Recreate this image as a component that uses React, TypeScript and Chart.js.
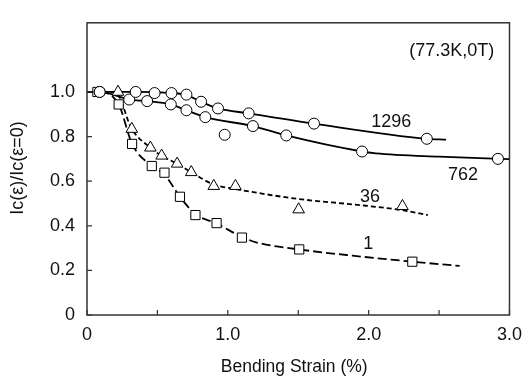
import { useEffect, useRef } from "react";
import { Chart, registerables } from "chart.js";

Chart.register(...registerables);

// ---- axis ticks ----
const xTickValues = [0, 1, 2, 3];
const xTickLabels = ["0", "1.0", "2.0", "3.0"];
const xMinorTicks = [0.5, 1.5, 2.5];
const yTickValues = [0, 0.2, 0.4, 0.6, 0.8, 1.0];
const yTickLabels = ["0", "0.2", "0.4", "0.6", "0.8", "1.0"];

// ---- measured markers ----
const s1296X = [0.09, 0.346, 0.48, 0.6, 0.706, 0.81, 0.93, 1.148, 1.612, 2.413];
const s1296Y = [1.0, 1.0, 0.995, 0.995, 0.988, 0.956, 0.926, 0.904, 0.858, 0.79];
const s762X = [0.09, 0.3, 0.427, 0.595, 0.706, 0.84, 1.178, 1.415, 1.953, 2.918];
const s762Y = [1.0, 0.966, 0.959, 0.944, 0.918, 0.887, 0.847, 0.805, 0.733, 0.7];
const sOutlierX = [0.978];
const sOutlierY = [0.808];
const s36X = [0.22, 0.318, 0.45, 0.53, 0.64, 0.74, 0.9, 1.054, 1.503, 2.24];
const s36Y = [1.0, 0.834, 0.75, 0.714, 0.678, 0.64, 0.578, 0.578, 0.473, 0.488];
const s1X = [0.074, 0.225, 0.32, 0.46, 0.55, 0.66, 0.77, 0.92, 1.1, 1.507, 2.31];
const s1Y = [1.0, 0.944, 0.767, 0.668, 0.638, 0.53, 0.448, 0.412, 0.347, 0.294, 0.239];

// ---- fitted curves ----
const f1296X = [0, 0.346, 0.6, 0.706, 0.81, 0.93, 1.148, 1.612, 2.413, 2.55];
const f1296Y = [1.0, 1.0, 0.995, 0.986, 0.956, 0.926, 0.904, 0.858, 0.79, 0.786];
const f762X = [0, 0.09, 0.3, 0.427, 0.595, 0.706, 0.84, 1.178, 1.415, 1.953, 2.05, 2.5, 3.0];
const f762Y = [1.0, 1.0, 0.966, 0.959, 0.944, 0.918, 0.887, 0.847, 0.805, 0.733, 0.725, 0.71, 0.699];
const f36X = [0, 0.2, 0.318, 0.45, 0.53, 0.64, 0.74, 0.9, 1.054, 1.206, 1.503, 1.9, 2.24, 2.42];
const f36Y = [1.0, 1.0, 0.834, 0.75, 0.714, 0.678, 0.64, 0.585, 0.565, 0.548, 0.52, 0.495, 0.47, 0.448];
const f1X = [0, 0.074, 0.225, 0.32, 0.46, 0.55, 0.66, 0.77, 0.92, 1.1, 1.206, 1.507, 1.9, 2.31, 2.646];
const f1Y = [1.0, 1.0, 0.944, 0.767, 0.668, 0.63, 0.53, 0.452, 0.41, 0.35, 0.325, 0.294, 0.265, 0.239, 0.22];

// ---- annotations ----
const annotations = [
  { text: "(77.3K,0T)", x: 2.59, y: 1.185 },
  { text: "1296", x: 2.16, y: 0.865 },
  { text: "762", x: 2.67, y: 0.628 },
  { text: "36", x: 2.01, y: 0.53 },
  { text: "1", x: 1.998, y: 0.317 },
];

const FONT = '"Liberation Sans", Arial, Helvetica, sans-serif';
const toPts = (xs: number[], ys: number[]) => xs.map((x, i) => ({ x, y: ys[i] }));

const markerDs = (label: string, xs: number[], ys: number[], style: string, radius: number) => ({
  type: "scatter" as const,
  label,
  data: toPts(xs, ys),
  showLine: false,
  pointStyle: style,
  pointRadius: radius,
  pointBackgroundColor: "#ffffff",
  pointBorderColor: "#000000",
  pointBorderWidth: 1,
  order: 0,
});

const lineDs = (label: string, xs: number[], ys: number[], dash: number[]) => ({
  type: "line" as const,
  label,
  data: toPts(xs, ys),
  showLine: true,
  borderColor: "#000000",
  borderWidth: 1.8,
  borderDash: dash,
  pointRadius: 0,
  cubicInterpolationMode: "monotone" as const,
  fill: false,
  order: 1,
});

const decorPlugin = {
  id: "decor",
  afterDraw(chart: any) {
    const { ctx, chartArea, scales } = chart;
    const xs = scales.x;
    const ys = scales.y;
    ctx.save();
    ctx.strokeStyle = "#333333";
    ctx.lineWidth = 1.5;
    ctx.strokeRect(chartArea.left, chartArea.top, chartArea.right - chartArea.left, chartArea.bottom - chartArea.top);
    ctx.lineWidth = 1.2;
    ctx.beginPath();
    [...xTickValues, ...xMinorTicks].forEach((v) => {
      const px = xs.getPixelForValue(v);
      ctx.moveTo(px, chartArea.bottom);
      ctx.lineTo(px, chartArea.bottom - 5);
    });
    yTickValues.forEach((v) => {
      const py = ys.getPixelForValue(v);
      ctx.moveTo(chartArea.left, py);
      ctx.lineTo(chartArea.left + 5, py);
    });
    ctx.stroke();

    ctx.fillStyle = "#111111";
    ctx.font = `18px ${FONT}`;
    ctx.textAlign = "center";
    ctx.textBaseline = "middle";
    annotations.forEach((a) => {
      ctx.fillText(a.text, xs.getPixelForValue(a.x), ys.getPixelForValue(a.y));
    });

    ctx.font = `17.5px ${FONT}`;
    ctx.fillText("Bending Strain (%)", (chartArea.left + chartArea.right) / 2 - 4, 367);
    ctx.font = `18px ${FONT}`;
    ctx.translate(18, 168);
    ctx.rotate(-Math.PI / 2);
    ctx.fillText("Ic(\u03b5)/Ic(\u03b5=0)", 0, 0);
    ctx.restore();
  },
};

export default function App() {
  const ref = useRef<HTMLCanvasElement | null>(null);
  useEffect(() => {
    document.body.style.margin = "0";
    if (!ref.current) return;
    const chart = new Chart(ref.current, {
      type: "scatter",
      data: {
        datasets: [
          markerDs("1296", s1296X, s1296Y, "circle", 5.5),
          markerDs("762", s762X, s762Y, "circle", 5.5),
          markerDs("outlier", sOutlierX, sOutlierY, "circle", 5.5),
          markerDs("36", s36X, s36Y, "triangle", 6.7),
          markerDs("1", s1X, s1Y, "rect", 6.5),
          lineDs("fit1296", f1296X, f1296Y, []),
          lineDs("fit762", f762X, f762Y, []),
          lineDs("fit36", f36X, f36Y, [5, 3]),
          lineDs("fit1", f1X, f1Y, [9, 4]),
        ] as any,
      },
      plugins: [decorPlugin],
      options: {
        animation: false,
        responsive: false,
        layout: { padding: { top: 12, right: 13, left: 0, bottom: 0 } },
        plugins: { legend: { display: false }, tooltip: { enabled: false } },
        scales: {
          x: {
            type: "linear",
            min: 0,
            max: 3,
            grid: { display: false, drawTicks: false },
            border: { display: false },
            afterBuildTicks: (scale: any) => {
              scale.ticks = xTickValues.map((v) => ({ value: v }));
            },
            afterFit: (scale: any) => {
              scale.height = 65;
            },
            ticks: {
              padding: 9,
              color: "#111111",
              font: { family: FONT, size: 18 },
              maxRotation: 0,
              callback: (v: any) => {
                const i = xTickValues.indexOf(Number(v));
                return i >= 0 ? xTickLabels[i] : "";
              },
            },
          },
          y: {
            type: "linear",
            min: 0,
            max: 1.31,
            grid: { display: false, drawTicks: false },
            border: { display: false },
            afterBuildTicks: (scale: any) => {
              scale.ticks = yTickValues.map((v) => ({ value: v }));
            },
            afterFit: (scale: any) => {
              scale.width = 87;
            },
            ticks: {
              padding: 12,
              color: "#111111",
              font: { family: FONT, size: 18 },
              callback: (v: any) => {
                const i = yTickValues.findIndex((t) => Math.abs(t - Number(v)) < 1e-6);
                return i >= 0 ? yTickLabels[i] : "";
              },
            },
          },
        },
      } as any,
    });
    return () => chart.destroy();
  }, []);
  return (
    <div style={{ width: 531, height: 380 }}>
      <canvas ref={ref} width={531} height={380} style={{ display: "block" }} />
    </div>
  );
}
